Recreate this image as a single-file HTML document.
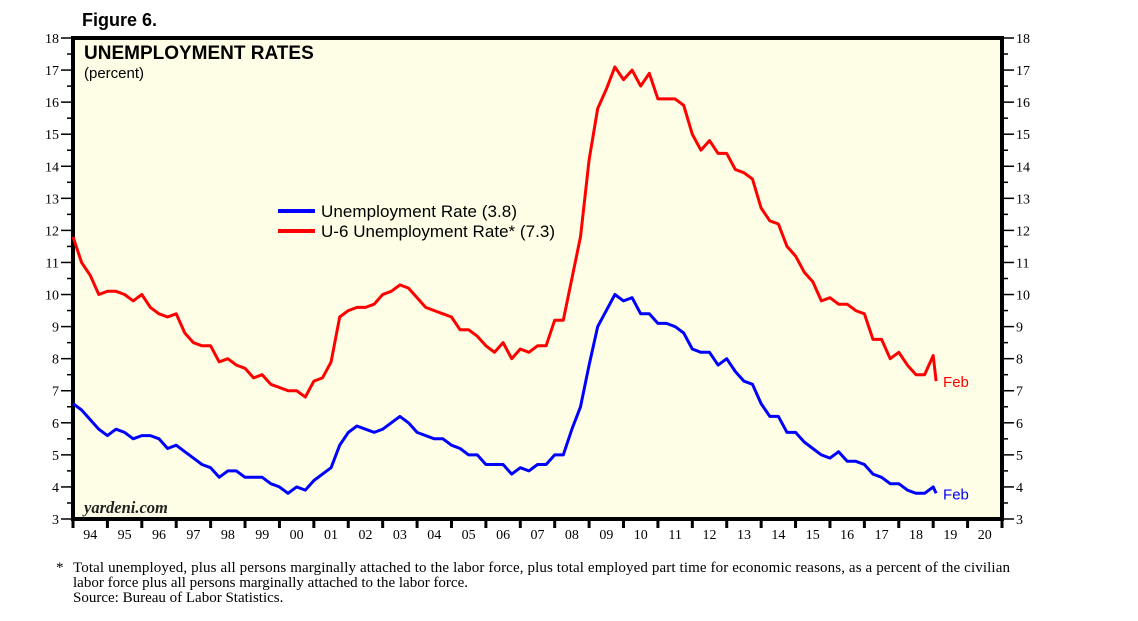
<!DOCTYPE html>
<html><head><meta charset="utf-8"><style>
html,body{margin:0;padding:0;background:#fff;}
svg{display:block;}
</style></head><body>
<svg id="chart" width="1138" height="621" xmlns="http://www.w3.org/2000/svg">
<text x="82" y="26" font-family="Liberation Sans, sans-serif" font-weight="bold" font-size="18">Figure 6.</text>
<rect x="73" y="38" width="929" height="481" fill="#fefee6" stroke="#000" stroke-width="4"/>
<text x="84" y="59" font-family="Liberation Sans, sans-serif" font-weight="bold" font-size="19">UNEMPLOYMENT RATES</text>
<text x="84" y="78" font-family="Liberation Sans, sans-serif" font-size="15">(percent)</text>
<text x="84" y="513" font-family="Liberation Serif, serif" font-style="italic" font-weight="bold" font-size="16.5" fill="#222">yardeni.com</text>
<g id="axes"></g>
<g id="series"></g>
<line x1="278" y1="211" x2="315" y2="211" stroke="#0000ff" stroke-width="4"/>
<text x="321" y="217" font-family="Liberation Sans, sans-serif" font-size="17" textLength="196">Unemployment Rate (3.8)</text>
<line x1="278" y1="231" x2="315" y2="231" stroke="#ff0000" stroke-width="4"/>
<text x="321" y="237" font-family="Liberation Sans, sans-serif" font-size="17" textLength="234">U-6 Unemployment Rate* (7.3)</text>
<text x="56" y="572" font-family="Liberation Serif, serif" font-size="15">*</text>
<text x="73" y="572" font-family="Liberation Serif, serif" font-size="15" textLength="937">Total unemployed, plus all persons marginally attached to the labor force, plus total employed part time for economic reasons, as a percent of the civilian</text>
<text x="73" y="587" font-family="Liberation Serif, serif" font-size="15">labor force plus all persons marginally attached to the labor force.</text>
<text x="73" y="602" font-family="Liberation Serif, serif" font-size="15">Source: Bureau of Labor Statistics.</text>
</svg>
<script>
const years = [94,95,96,97,98,99,"00","01","02","03","04","05","06","07","08","09",10,11,12,13,14,15,16,17,18,19,20];
const yTicks = [3,4,5,6,7,8,9,10,11,12,13,14,15,16,17,18];
const unrate = [6.6,6.4,6.1,5.8, 5.6,5.8,5.7,5.5, 5.6,5.6,5.5,5.2, 5.3,5.1,4.9,4.7, 4.6,4.3,4.5,4.5, 4.3,4.3,4.3,4.1, 4.0,3.8,4.0,3.9, 4.2,4.4,4.6,5.3, 5.7,5.9,5.8,5.7, 5.8,6.0,6.2,6.0, 5.7,5.6,5.5,5.5, 5.3,5.2,5.0,5.0, 4.7,4.7,4.7,4.4, 4.6,4.5,4.7,4.7, 5.0,5.0,5.8,6.5, 7.8,9.0,9.5,10.0, 9.8,9.9,9.4,9.4, 9.1,9.1,9.0,8.8, 8.3,8.2,8.2,7.8, 8.0,7.6,7.3,7.2, 6.6,6.2,6.2,5.7, 5.7,5.4,5.2,5.0, 4.9,5.1,4.8,4.8, 4.7,4.4,4.3,4.1, 4.1,3.9,3.8,3.8, 4.0,3.8];
const u6 = [11.8,11.0,10.6,10.0, 10.1,10.1,10.0,9.8, 10.0,9.6,9.4,9.3, 9.4,8.8,8.5,8.4, 8.4,7.9,8.0,7.8, 7.7,7.4,7.5,7.2, 7.1,7.0,7.0,6.8, 7.3,7.4,7.9,9.3, 9.5,9.6,9.6,9.7, 10.0,10.1,10.3,10.2, 9.9,9.6,9.5,9.4, 9.3,8.9,8.9,8.7, 8.4,8.2,8.5,8.0, 8.3,8.2,8.4,8.4, 9.2,9.2,10.5,11.8, 14.2,15.8,16.4,17.1, 16.7,17.0,16.5,16.9, 16.1,16.1,16.1,15.9, 15.0,14.5,14.8,14.4, 14.4,13.9,13.8,13.6, 12.7,12.3,12.2,11.5, 11.2,10.7,10.4,9.8, 9.9,9.7,9.7,9.5, 9.4,8.6,8.6,8.0, 8.2,7.8,7.5,7.5, 8.1,7.3];
const NS="http://www.w3.org/2000/svg";
const X0=73,X1=1002,Y0=519,Y1=38;
const yr=(X1-X0)/27;
function xOf(i){
  let t = i<100 ? i*0.25 : 25 + (i-100)/12;
  return X0 + t*yr;
}
function yOf(v){return Y0-(v-3)*(Y0-Y1)/15;}
function mk(tag,attrs,parent){const e=document.createElementNS(NS,tag);for(const k in attrs)e.setAttribute(k,attrs[k]);parent.appendChild(e);return e;}
const ax=document.getElementById('axes');
yTicks.forEach(v=>{
  const y=yOf(v);
  let t=mk('line',{x1:X0-12,x2:X0,y1:y,y2:y,stroke:'#000','stroke-width':1.5},ax);
  
  
  t=mk('line',{x1:X1,x2:X1+12,y1:y,y2:y,stroke:'#000','stroke-width':1.5},ax);
  
  
  if(v<18){
    const h=yOf(v+0.5);
    mk('line',{x1:X0-6,x2:X0,y1:h,y2:h,stroke:'#000','stroke-width':1.5},ax);
    mk('line',{x1:X1,x2:X1+6,y1:h,y2:h,stroke:'#000','stroke-width':1.5},ax);
  }
  let l=mk('text',{x:X0-14,y:y+5,'text-anchor':'end','font-family':'Liberation Serif, serif','font-size':14},ax);
  l.textContent=v;
  
  
  l=mk('text',{x:X1+14,y:y+5,'font-family':'Liberation Serif, serif','font-size':14},ax);
  l.textContent=v;
  
  
});
years.forEach((yy,i)=>{
  const x=X0+i*yr;
  mk('line',{x1:x,x2:x,y1:Y0,y2:Y0+9,stroke:'#000','stroke-width':3},ax);
  const l=mk('text',{x:x+yr/2,y:Y0+20,'text-anchor':'middle','font-family':'Liberation Serif, serif','font-size':14},ax);
  l.textContent=yy;
  
  
});
mk('line',{x1:X1,x2:X1,y1:Y0,y2:Y0+9,stroke:'#000','stroke-width':3},ax);
const sg=document.getElementById('series');
function draw(arr,color,name){
  const pts=arr.map((v,i)=>xOf(i).toFixed(1)+','+yOf(v).toFixed(1)).join(' ');
  const p=mk('polyline',{points:pts,fill:'none',stroke:color,'stroke-width':3,'stroke-linejoin':'round'},sg);
  
  
  const last=arr.length-1;
  const t=mk('text',{x:xOf(last)+7,y:yOf(arr[last])+6,fill:color,'font-family':'Liberation Sans, sans-serif','font-size':15},sg);
  t.textContent='Feb';
  
  
}
draw(u6,'#ff0000','u6-line');
draw(unrate,'#0000ff','unemployment-line');
</script>
</body></html>
